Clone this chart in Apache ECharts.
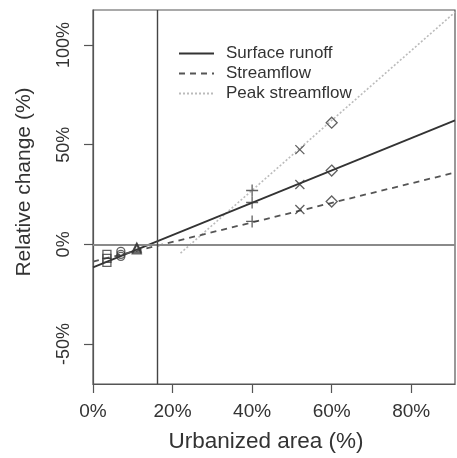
<!DOCTYPE html>
<html><head><meta charset="utf-8">
<script src="https://cdn.jsdelivr.net/npm/echarts@6/dist/echarts.min.js"></script>
<style>html,body{margin:0;padding:0;background:#fff}#c{width:457px;height:458px}</style>
</head><body><div id="c"></div>
<script>
// Axis ticks
const xTicks = [0, 20, 40, 60, 80];
const yTicks = [-50, 0, 50, 100];
const xRange = [0, 91];
const yRange = [-70, 117.5];
const refX = 16.2;   // vertical reference line (urbanized area %)
const refY = 0;      // horizontal reference line

// Series names
const seriesNames = ['Surface runoff', 'Streamflow', 'Peak streamflow'];

// Fitted lines (endpoints)
const runoffLine = [[0, -11.5], [91, 62.2]];
const streamLine = [[0, -8.6], [91, 36]];
const peakLine = [[22, -4.4], [91, 116.4]];

// Scenario points: [urbanized %, runoff %, streamflow %, peak %]
const squares = [[3.5, -9, -5, -7]];
const circles = [[7, -6, -3.5, -5]];
const triangles = [[11, -2.5, -1.5, -2]];
const pluses = [[40, 21, 11.5, 27]];
const crosses = [[52, 30, 17.5, 47.5]];
const diamonds = [[60, 37, 21.5, 61]];

const ink = '#3a3a3a';
const font = 'Liberation Sans, Arial, Helvetica, sans-serif';

const PLUS = 'path://M5,0L5,10M0,5L10,5';
const CROSS = 'path://M0,0L10,10M10,0L0,10';

function pts(groups) {
  const out = [];
  groups.forEach(g => { for (let i = 1; i < g.length; i++) out.push([g[0], g[i]]); });
  return out;
}
function scatter(groups, symbol, size) {
  return {
    type: 'scatter', data: pts(groups), symbol: symbol, symbolSize: size,
    itemStyle: { color: 'rgba(0,0,0,0)', borderColor: ink, borderWidth: 1.3 },
    z: 5, silent: true
  };
}

const chart = echarts.init(document.getElementById('c'), null, { renderer: 'canvas' });
chart.setOption({
  animation: false,
  grid: { left: 93, right: 2, top: 10, bottom: 73, show: true, borderColor: '#555', borderWidth: 1.2, backgroundColor: 'transparent' },
  legend: {
    orient: 'vertical', left: 173, top: 40, itemWidth: 35, itemHeight: 14, itemGap: 3,
    data: seriesNames,
    itemStyle: { opacity: 0 },
    textStyle: { fontFamily: font, fontSize: 17, color: '#333', padding: [0, 0, 0, 7] },
    selectedMode: false
  },
  xAxis: {
    type: 'value', min: xRange[0], max: xRange[1],
    name: 'Urbanized area (%)', nameLocation: 'middle', nameGap: 46,
    nameTextStyle: { fontFamily: font, fontSize: 22.5, color: '#333', padding: [0, 16, 0, 0] },
    axisLine: { show: true, onZero: false, lineStyle: { color: '#555', width: 1.2 } },
    axisTick: { show: true, inside: false, length: 9, customValues: xTicks, lineStyle: { color: '#555', width: 1.2 } },
    axisLabel: { customValues: xTicks, formatter: v => v + '%', fontFamily: font, fontSize: 19, color: '#333', margin: 18 },
    splitLine: { show: false }
  },
  yAxis: {
    type: 'value', min: yRange[0], max: yRange[1],
    name: 'Relative change (%)', nameLocation: 'middle', nameGap: 58, nameRotate: 90,
    nameTextStyle: { fontFamily: font, fontSize: 21, color: '#333', padding: [0, 0, 0, 30] },
    axisLine: { show: true, onZero: false, lineStyle: { color: '#555', width: 1.2 } },
    axisTick: { show: true, inside: false, length: 9, customValues: yTicks, lineStyle: { color: '#555', width: 1.2 } },
    axisLabel: { customValues: yTicks, formatter: v => v + '%', rotate: 90, fontFamily: font, fontSize: 18, color: '#333', margin: 20 },
    splitLine: { show: false }
  },
  series: [
    { name: seriesNames[0], type: 'line', data: runoffLine, symbol: 'none', clip: true,
      lineStyle: { color: '#333', width: 1.8, type: 'solid' }, itemStyle: { color: '#333' }, z: 3,
      markLine: { silent: true, symbol: 'none', label: { show: false },
        data: [{ yAxis: refY, lineStyle: { color: '#8a8a8a', width: 2.2, type: 'solid' } },
               { xAxis: refX, lineStyle: { color: '#444', width: 1.4, type: 'solid' } }] } },
    { name: seriesNames[1], type: 'line', data: streamLine, symbol: 'none', clip: true,
      lineStyle: { color: '#555', width: 1.8, type: [6, 5] }, itemStyle: { color: '#555' }, z: 3 },
    { name: seriesNames[2], type: 'line', data: peakLine, symbol: 'none', clip: true,
      lineStyle: { color: '#bbb', width: 1.6, type: [2, 2] }, itemStyle: { color: '#bbb' }, z: 2 },
    scatter(squares, 'rect', 8),
    scatter(circles, 'circle', 8),
    scatter(triangles, 'triangle', 9),
    scatter(pluses, PLUS, 12),
    scatter(crosses, CROSS, 9),
    scatter(diamonds, 'diamond', 11)
  ]
});
</script></body></html>
